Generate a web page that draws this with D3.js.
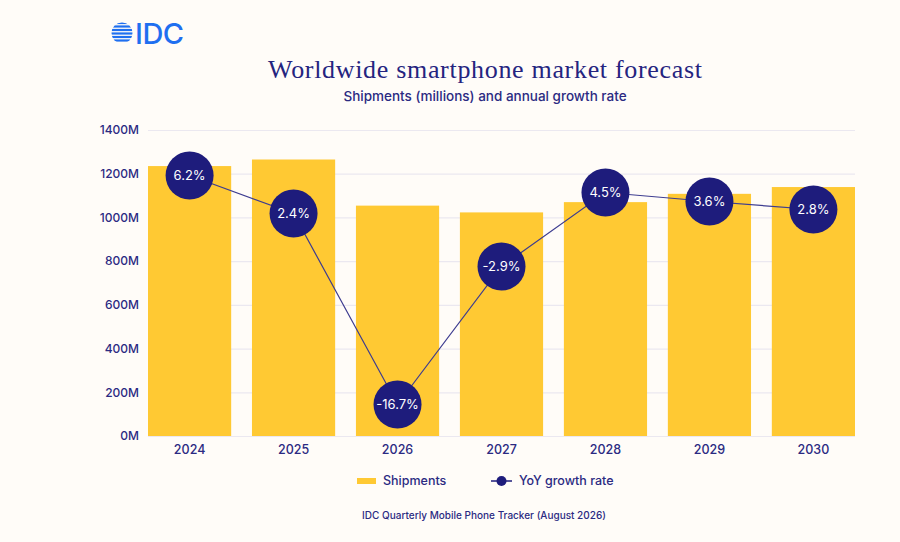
<!DOCTYPE html>
<html>
<head>
<meta charset="utf-8">
<script src="https://cdn.jsdelivr.net/npm/d3@7"></script>
<style>
  html, body { margin: 0; padding: 0; background: #fffcf8; }
  svg { display: block; }
  text { font-family: "Inter", "Noto Sans", sans-serif; fill: #2b2a82; }
</style>
</head>
<body>
<div id="chart"></div>
<script>
// chart data
var years = ["2024", "2025", "2026", "2027", "2028", "2029", "2030"]
var shipments = [1235, 1265, 1054, 1023, 1070, 1108, 1139]
var growth = [6.2, 2.4, -16.7, -2.9, 4.5, 3.6, 2.8]
var yTicks = [0, 200, 400, 600, 800, 1000, 1200, 1400]

var W = 900, H = 542
var margin = {top: 130, right: 45, bottom: 106, left: 148},
    width = W - margin.left - margin.right,
    height = H - margin.top - margin.bottom;

var svg = d3.select("#chart")
    .append("svg")
    .attr("width", W)
    .attr("height", H)

svg.append("rect").attr("width", W).attr("height", H).attr("fill", "#fffcf8")

// IDC logo
var logo = svg.append("g").attr("transform", "translate(122,33)")
logo.append("clipPath").attr("id", "globe")
    .append("circle").attr("r", 10.5)
var stripes = logo.append("g").attr("clip-path", "url(#globe)")
d3.range(-10, 11, 3.5).forEach(function(yy) {
    stripes.append("rect")
        .attr("x", -11).attr("y", yy - 1.1)
        .attr("width", 22).attr("height", 2.2)
        .attr("fill", "#1f6ff0")
})
svg.append("text")
    .attr("x", 135).attr("y", 44)
    .style("font-size", "29px")
    .style("font-weight", 500)
    .style("fill", "#1f6ff0")
    .style("letter-spacing", "-0.5px")
    .text("IDC")

// titles
svg.append("text")
    .attr("x", 485).attr("y", 78)
    .attr("text-anchor", "middle")
    .attr("textLength", 434)
    .attr("lengthAdjust", "spacing")
    .style("font-family", "'Liberation Serif', serif")
    .style("font-size", "26px")
    .style("fill", "#25247f")
    .text("Worldwide smartphone market forecast")

svg.append("text")
    .attr("x", 485).attr("y", 101)
    .attr("text-anchor", "middle")
    .style("font-size", "13.5px")
    .style("font-weight", 500)
    .text("Shipments (millions) and annual growth rate")

var g = svg.append("g")
    .attr("transform", "translate(" + margin.left + "," + margin.top + ")")

// scales
var x = d3.scaleBand()
    .domain(years)
    .range([0, width])
    .paddingInner(0.2)
    .paddingOuter(0)

var y = d3.scaleLinear()
    .domain([0, 1400])
    .range([height, 0])

var y2 = d3.scaleLinear()
    .domain([-20, 10])
    .range([height + 1.5, height - 298.5])

// gridlines + y axis
g.append("g")
    .call(d3.axisLeft(y).tickValues(yTicks).tickSize(-width).tickFormat(function(d) { return d + "M" }))
    .call(function(a) {
        a.select(".domain").remove()
        a.selectAll("line").attr("stroke", "#ebe8f0").attr("stroke-width", 1.2)
        a.selectAll("text").attr("x", -9).style("font-size", "12px").style("font-weight", 500).style("fill", "#2b2a82")
    })

// bars
g.selectAll(".bar")
    .data(shipments)
    .enter()
    .append("rect")
    .attr("class", "bar")
    .attr("x", function(d, i) { return x(years[i]) })
    .attr("width", x.bandwidth())
    .attr("y", function(d) { return y(d) })
    .attr("height", function(d) { return height - y(d) })
    .attr("fill", "#ffc933")

// x axis
g.append("g")
    .attr("transform", "translate(0," + height + ")")
    .call(d3.axisBottom(x).tickSize(0).tickPadding(9))
    .call(function(a) {
        a.select(".domain").remove()
        a.selectAll("text").style("font-size", "12.5px").style("font-weight", 500).style("fill", "#2b2a82")
    })

// growth line
var cx = function(d, i) { return x(years[i]) + x.bandwidth() / 2 }
g.append("path")
    .datum(growth)
    .attr("fill", "none")
    .attr("stroke", "#3d3c90")
    .attr("stroke-width", 1.2)
    .attr("d", d3.line()
        .x(cx)
        .y(function(d) { return y2(d) })
    )

var dots = g.selectAll(".dot")
    .data(growth)
    .enter()
    .append("g")
    .attr("transform", function(d, i) { return "translate(" + cx(d, i) + "," + y2(d) + ")" })
dots.append("circle")
    .attr("r", 24)
    .attr("fill", "#1e1c7c")
dots.append("text")
    .attr("text-anchor", "middle")
    .attr("dy", "0.36em")
    .style("font-size", "13px")
    .style("font-weight", 400)
    .style("fill", "#ffffff")
    .text(function(d) { return d + "%" })

// legend
var leg = svg.append("g").attr("transform", "translate(0,481)")
leg.append("rect").attr("x", 357).attr("y", -3).attr("width", 19).attr("height", 6).attr("fill", "#ffc933")
leg.append("text").attr("x", 383).attr("dy", "0.35em")
    .style("font-size", "12.5px").style("font-weight", 500).text("Shipments")
leg.append("line").attr("x1", 491).attr("x2", 512).attr("stroke", "#1e1c7c").attr("stroke-width", 1.5)
leg.append("circle").attr("cx", 501.5).attr("r", 5).attr("fill", "#1e1c7c")
leg.append("text").attr("x", 519).attr("dy", "0.35em")
    .style("font-size", "12.5px").style("font-weight", 500).text("YoY growth rate")

// source
svg.append("text")
    .attr("x", 484).attr("y", 519)
    .attr("text-anchor", "middle")
    .style("font-size", "10px")
    .style("font-weight", 500)
    .text("IDC Quarterly Mobile Phone Tracker (August 2026)")
</script>
</body>
</html>
